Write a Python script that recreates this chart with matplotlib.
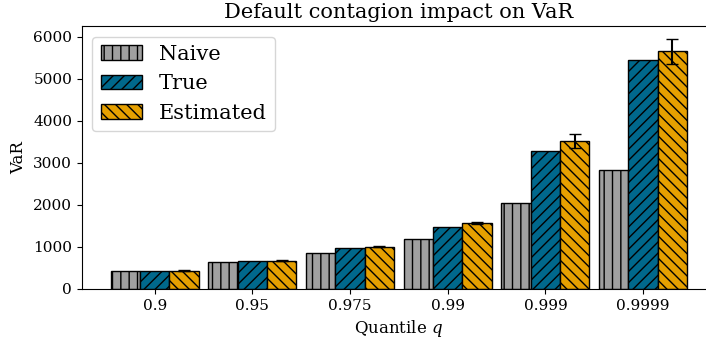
import numpy as np
import matplotlib.pyplot as plt

plt.rcParams['font.family'] = 'DejaVu Serif'
plt.rcParams['mathtext.fontset'] = 'dejavuserif'

quantiles = ['0.9', '0.95', '0.975', '0.99', '0.999', '0.9999']
naive = [436, 643, 864, 1183, 2048, 2817]
true_var = [436, 674, 969, 1483, 3286, 5452]
estimated = [436, 676, 1007, 1571, 3524, 5650]
estimated_err = [8, 12, 15, 30, 167, 300]

def plot_var():
    fig, ax = plt.subplots(figsize=(7.06, 3.39), dpi=100)
    x = np.arange(len(quantiles))
    w = 0.3
    ax.bar(x - w, naive, w, color='#a0a0a0', edgecolor='black', hatch='||', label='Naive')
    ax.bar(x, true_var, w, color='#00688c', edgecolor='black', hatch='///', label='True')
    ax.bar(x + w, estimated, w, color='#e6a000', edgecolor='black', hatch='\\\\\\',
           yerr=estimated_err, capsize=4.5, label='Estimated')
    ax.set_xticks(x)
    ax.set_xticklabels(quantiles)
    ax.tick_params(labelsize=11)
    ax.set_xlabel('Quantile $q$', fontsize=12)
    ax.set_ylabel('VaR', fontsize=12)
    ax.set_title('Default contagion impact on VaR', fontsize=15)
    ax.legend(fontsize=15, loc='upper left')
    fig.subplots_adjust(left=0.116, right=1.014, top=0.923, bottom=0.1475)
    fig.savefig('out.png')

def main():
    plot_var()

if __name__ == "__main__":
    main()
